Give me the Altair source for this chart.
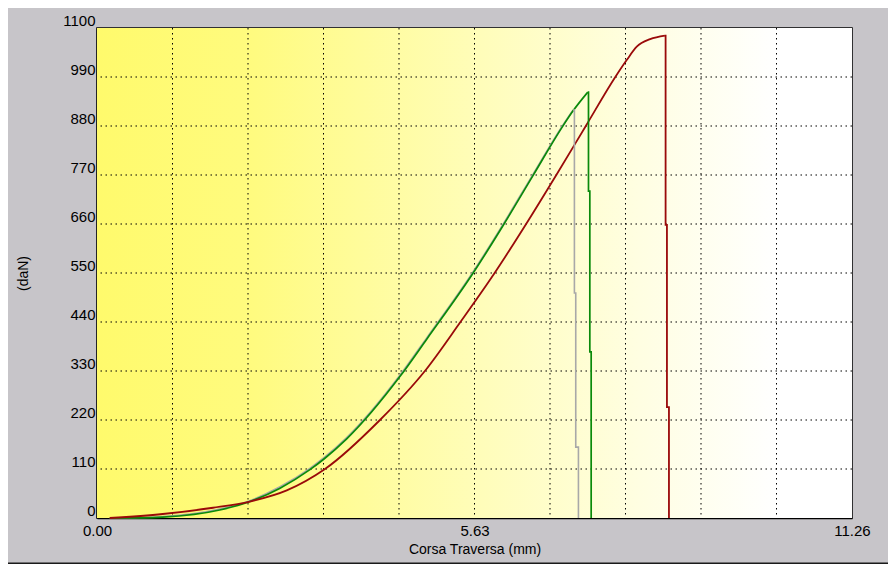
import altair as alt
import pandas as pd

# ---- data ----
x_ticks = [0, 1.126, 2.252, 3.378, 4.504, 5.63, 6.756, 7.882, 9.008, 10.134, 11.26]
y_ticks = [0, 110, 220, 330, 440, 550, 660, 770, 880, 990, 1100]

# rising parts of the curves
green_x = [0.19, 0.64, 0.98, 1.83, 2.28, 2.73, 3.17, 3.39, 3.72, 4.52, 4.92, 5.61, 6.05,
           6.50, 6.94, 7.10, 7.32]
green_y = [0, 0.5, 2, 18, 37, 67, 108, 133, 177, 318, 402, 550, 655,
           768, 878, 914, 956]
gray_x = [0.19, 0.64, 0.98, 1.83, 2.28, 2.73, 3.17, 3.39, 3.72, 4.52, 4.92, 5.61, 6.05,
          6.50, 6.94, 7.10]
gray_y = [0, 1, 3, 20, 39, 70, 111, 136, 180, 321, 405, 553, 658,
          771, 880, 916]
red_x = [0.19, 0.98, 1.73, 2.28, 2.83, 3.40, 4.22, 4.89, 5.42, 5.93, 6.40, 6.85, 7.29,
         7.73, 7.90, 8.05, 8.25, 8.47]
red_y = [0, 9, 23, 37, 62, 110, 220, 330, 440, 550, 660, 770, 880,
         990, 1028, 1058, 1075, 1083]

# break (drop) parts of the curves
green_drop_x = [7.32, 7.33, 7.33, 7.35, 7.35, 7.37, 7.37]
green_drop_y = [956, 956, 734, 734, 373, 373, 0]
gray_drop_x = [7.10, 7.12, 7.12, 7.14, 7.14, 7.18, 7.18]
gray_drop_y = [916, 916, 505, 505, 159, 159, 0]
red_drop_x = [8.47, 8.48, 8.48, 8.50, 8.50, 8.53, 8.53]
red_drop_y = [1083, 1083, 658, 658, 249, 249, 0]

series = ["gray", "green", "red"]
series_colors = ["#A8A8A8", "#0A8A0A", "#9A0A0A"]
series_widths = [1.6, 1.8, 1.6]


def build(parts):
    rows = []
    for name, xs, ys in parts:
        for i, (xv, yv) in enumerate(zip(xs, ys)):
            rows.append({"s": name, "i": i, "x": xv, "y": yv})
    return pd.DataFrame(rows)


rise_df = build([("gray", gray_x, gray_y), ("green", green_x, green_y), ("red", red_x, red_y)])
drop_df = build([("gray", gray_drop_x, gray_drop_y), ("green", green_drop_x, green_drop_y),
                 ("red", red_drop_x, red_drop_y)])

xscale = alt.Scale(domain=[0, 11.26], nice=False, zero=False)
yscale = alt.Scale(domain=[0, 1100], nice=False)

FONT = "Liberation Sans, Arial, sans-serif"

# background gradient rectangle
bg_df = pd.DataFrame({"x0": [0], "x1": [11.26], "y0": [0], "y1": [1100]})
bg = alt.Chart(bg_df).mark_rect(
    color=alt.Gradient(
        gradient="linear",
        stops=[
            alt.GradientStop(color="#FFFA6C", offset=0),
            alt.GradientStop(color="#FFFB7E", offset=0.2),
            alt.GradientStop(color="#FFFDB8", offset=0.5),
            alt.GradientStop(color="#FFFEE2", offset=0.72),
            alt.GradientStop(color="#FFFFFF", offset=0.9),
            alt.GradientStop(color="#FFFFFF", offset=1),
        ],
        x1=0, x2=1, y1=0, y2=0,
    )
).encode(
    x=alt.X("x0:Q", scale=xscale,
            axis=alt.Axis(values=x_ticks, grid=False, ticks=False, domain=True,
                          domainColor="#000000", domainWidth=1.5,
                          labelExpr="(datum.value < 0.01 || abs(datum.value - 5.63) < 0.01 || datum.value > 11.25) ? format(datum.value, '.2f') : ''",
                          labelFont=FONT, labelFontSize=15, labelColor="#000000",
                          labelPadding=5, labelFlush=False, labelOverlap=False,
                          title="Corsa Traversa (mm)", titleFont=FONT, titleFontSize=14,
                          titleFontWeight="normal", titleColor="#000000", titlePadding=4)),
    x2="x1:Q",
    y=alt.Y("y0:Q", scale=yscale,
            axis=alt.Axis(values=y_ticks, grid=False, ticks=False, domain=True,
                          domainColor="#000000", domainWidth=1.5, format="d",
                          labelFont=FONT, labelFontSize=15, labelColor="#000000",
                          labelBaseline="bottom", labelPadding=2, labelFlush=False,
                          labelOverlap=False,
                          title="(daN)", titleFont=FONT, titleFontSize=14,
                          titleFontWeight="normal", titleColor="#000000",
                          titleAngle=270, titleAlign="center", titleBaseline="middle",
                          titleX=-74, titleY=245)),
    y2="y1:Q",
)

vgrid = alt.Chart(pd.DataFrame({"x": x_ticks[1:-1]})).mark_rule(
    color="#000000", strokeWidth=1, strokeDash=[1.5, 3.5]
).encode(x=alt.X("x:Q", scale=xscale))

hgrid = alt.Chart(pd.DataFrame({"y": y_ticks[1:-1]})).mark_rule(
    color="#000000", strokeWidth=1, strokeDash=[1.5, 3.5]
).encode(y=alt.Y("y:Q", scale=yscale))

color_enc = alt.Color("s:N", scale=alt.Scale(domain=series, range=series_colors), legend=None)
width_enc = alt.StrokeWidth("s:N", scale=alt.Scale(domain=series, range=series_widths), legend=None)

rise = alt.Chart(rise_df).mark_line(interpolate="monotone").encode(
    x=alt.X("x:Q", scale=xscale),
    y=alt.Y("y:Q", scale=yscale),
    color=color_enc, strokeWidth=width_enc,
    order="i:Q", detail="s:N",
)

drop = alt.Chart(drop_df).mark_line(interpolate="linear").encode(
    x=alt.X("x:Q", scale=xscale),
    y=alt.Y("y:Q", scale=yscale),
    color=color_enc, strokeWidth=width_enc,
    order="i:Q", detail="s:N",
)

# decorative window frame lines
frame_bottom = alt.Chart(pd.DataFrame({"a": [0]})).mark_rule(color="#1A1A1A", strokeWidth=3).encode(
    x=alt.value(-92), x2=alt.value(792), y=alt.value(536))
frame_top = alt.Chart(pd.DataFrame({"a": [0]})).mark_rule(color="#9A9A9A", strokeWidth=2).encode(
    x=alt.value(-92), x2=alt.value(792), y=alt.value(-23))
frame_left = alt.Chart(pd.DataFrame({"a": [0]})).mark_rule(color="#F4F4F4", strokeWidth=2).encode(
    x=alt.value(-92), y=alt.value(-23), y2=alt.value(536))

chart = alt.layer(bg, vgrid, hgrid, rise, drop, frame_bottom, frame_top, frame_left).properties(
    width=755, height=490,
    background="#C7C5C9",
    autosize=alt.AutoSizeParams(type="none"),
    padding={"left": 89, "top": 20, "right": 36, "bottom": 46},
).configure_view(stroke="#000000", strokeWidth=1.5)

chart.save("out.html", embed_options={"renderer": "svg", "actions": False})
